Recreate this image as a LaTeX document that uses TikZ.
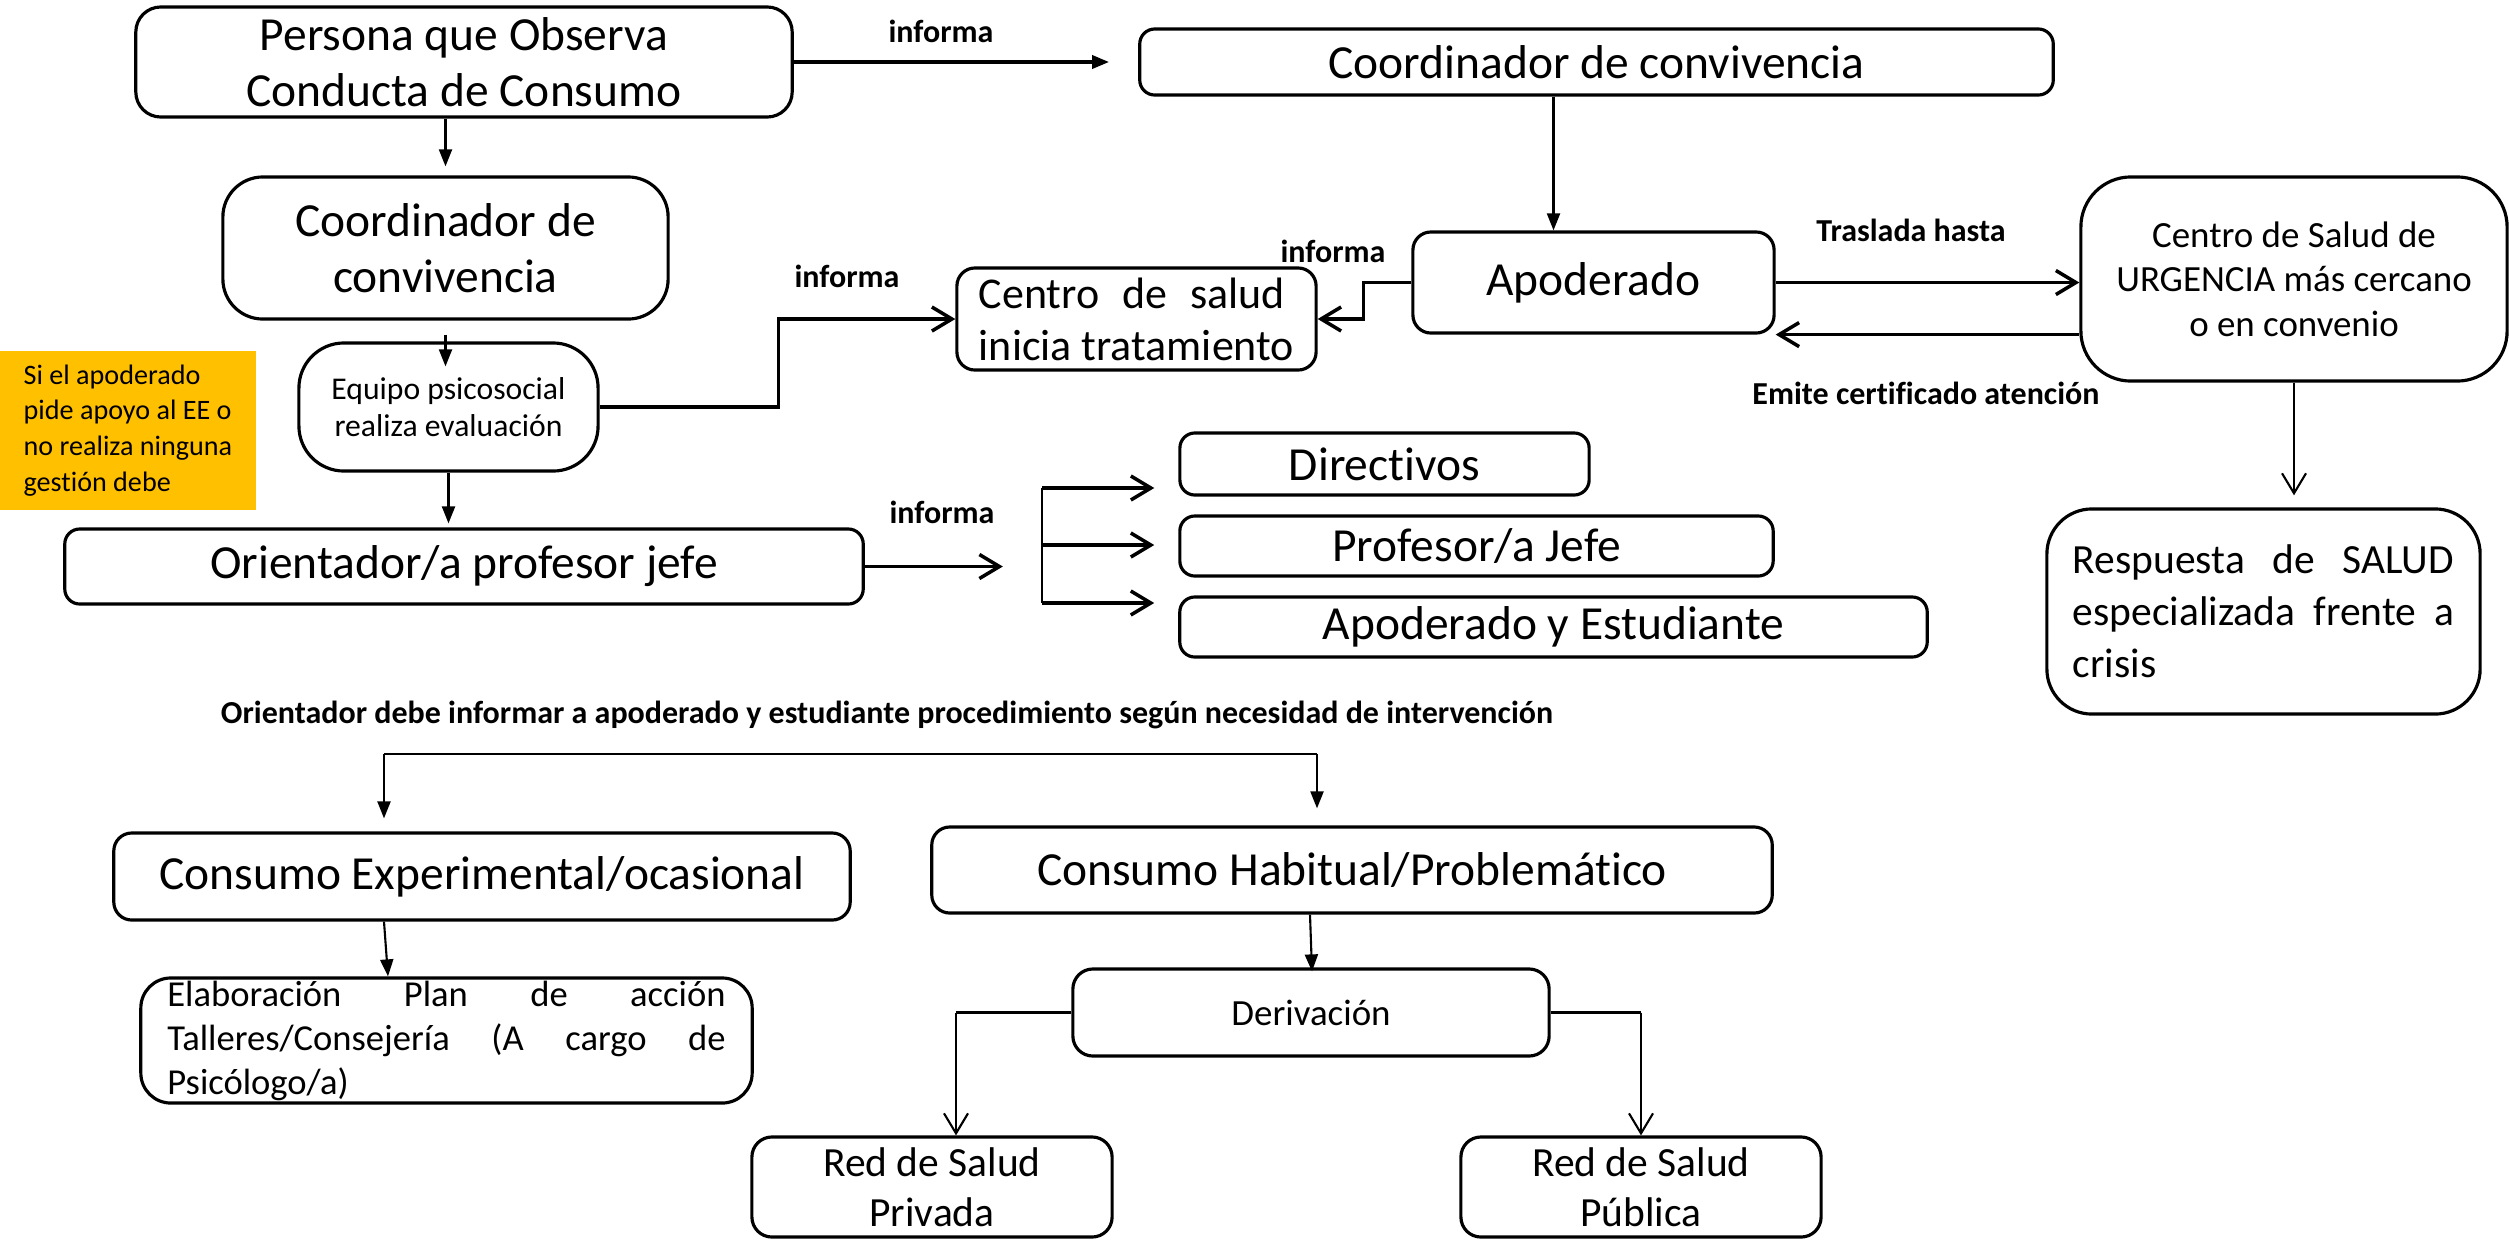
\documentclass[tikz,border=0pt]{standalone}
\usepackage{fontspec}
\setmainfont{Carlito}[Ligatures=NoCommon]
\usetikzlibrary{arrows.meta,calc}
\definecolor{orng}{HTML}{FFC000}
\newcommand\fLg{\fontsize{13.5pt}{16pt}\selectfont}
\newcommand\fMd{\fontsize{10.5pt}{12.7pt}\selectfont}
\newcommand\fRs{\fontsize{11.8pt}{14.8pt}\selectfont}
\newcommand\fRd{\fontsize{11.8pt}{14.2pt}\selectfont}
\newcommand\fCs{\fontsize{12.5pt}{14.8pt}\selectfont}
\newcommand\fEq{\fontsize{9pt}{10.5pt}\selectfont}
\newcommand\fEl{\fontsize{10.4pt}{12.5pt}\selectfont}
\newcommand\fOr{\fontsize{8pt}{10.2pt}\selectfont}
\newcommand\fLb{\bfseries\fontsize{9.1pt}{11pt}\selectfont}
\begin{document}
\begin{tikzpicture}[x=0.01cm,y=-0.01cm,
  box/.style={draw, line width=0.9pt, rounded corners=#1, inner sep=0pt, align=center},
  box/.default=0.15cm,
  thk/.style={line width=1pt},
  thn/.style={line width=0.6pt},
  arrF/.style={-{Triangle[length=0.17cm,width=0.13cm]}},
  barb/.style={-{Straight Barb[length=0.2cm,width=0.24cm]}},
  lab/.style={font=\fLb, inner sep=0pt}]
\useasboundingbox (0,0) rectangle (2509,1239);

% boxes
\node[box=0.25cm, minimum width=6.56cm, minimum height=1.10cm, font=\fLg] (persona) at (464,62) {Persona que Observa\\Conducta de Consumo};
\node[box, minimum width=9.13cm, minimum height=0.66cm, font=\fLg] (coordT) at (1596.5,62) {Coordinador de convivencia};
\node[box=0.18cm, minimum width=3.61cm, minimum height=1.01cm, font=\fLg] (apod) at (1593.5,282.5) {Apoderado};
\node[box=0.5cm, minimum width=4.26cm, minimum height=2.04cm, font=\fMd] (urg) at (2294,279) {Centro de Salud de\\URGENCIA más cercano\\o en convenio};
\node[box=0.45cm, minimum width=4.33cm, minimum height=2.05cm, font=\fRs, align=left] (resp) at (2263.5,611.5) {\makebox[3.81cm][s]{Respuesta de SALUD}\\\makebox[3.81cm][s]{especializada frente a}\\crisis};
\node[box=0.18cm, minimum width=3.59cm, minimum height=1.02cm, font=\fCs, align=left] (centro) at (1136.5,319) {\makebox[3.06cm][s]{Centro de salud}\\inicia tratamiento};
\node[box=0.4cm, minimum width=4.45cm, minimum height=1.42cm, font=\fLg] (coordL) at (445.5,248) {Coordinador de\\convivencia};
\node[box=0.45cm, minimum width=2.99cm, minimum height=1.28cm, font=\fEq] (equipo) at (448.5,407) {Equipo psicosocial\\realiza evaluación};
\node[fill=orng, minimum width=2.56cm, minimum height=1.59cm, inner sep=0pt, align=left, font=\fOr] (nota) at (128,430.5) {Si el apoderado\\pide apoyo al EE o\\no realiza ninguna\\gestión debe};
\node[box, minimum width=7.98cm, minimum height=0.75cm, font=\fLg] (orient) at (464,566.5) {Orientador/a profesor jefe};
\node[box, minimum width=4.09cm, minimum height=0.62cm, font=\fLg] (dir) at (1384.5,464) {Directivos};
\node[box, minimum width=5.93cm, minimum height=0.60cm, font=\fLg] (prof) at (1476.5,546) {Profesor/a Jefe};
\node[box, minimum width=7.47cm, minimum height=0.60cm, font=\fLg] (apEst) at (1553.5,627) {Apoderado y Estudiante};
\node[lab] (nota2) at (887,715) {Orientador debe informar a apoderado y estudiante procedimiento según necesidad de intervención};
\node[box=0.18cm, minimum width=7.36cm, minimum height=0.87cm, font=\fLg] (consE) at (482,876.5) {Consumo Experimental/ocasional};
\node[box=0.18cm, minimum width=8.40cm, minimum height=0.86cm, font=\fLg] (consH) at (1352,870) {Consumo Habitual/Problemático};
\node[box=0.3cm, minimum width=6.11cm, minimum height=1.25cm, font=\fEl, align=left] (elab) at (446.5,1040.5) {\makebox[5.58cm][s]{Elaboración Plan de acción}\\\makebox[5.58cm][s]{Talleres/Consejería (A cargo de}\\Psicólogo/a)};
\node[box=0.2cm, minimum width=4.76cm, minimum height=0.87cm, font=\fMd] (deriv) at (1311,1012.5) {Derivación};
\node[box=0.2cm, minimum width=3.60cm, minimum height=1.00cm, font=\fRd] (redPr) at (932,1187) {Red de Salud\\Privada};
\node[box=0.2cm, minimum width=3.60cm, minimum height=1.00cm, font=\fRd] (redPu) at (1641,1187) {Red de Salud\\Pública};

% labels
\node[lab] (l1) at (941,31) {informa};
\node[lab] (l2) at (1911,230) {Traslada hasta};
\node[lab] (l3) at (1926,393) {Emite certificado atención};
\node[lab] (l4) at (1333,251) {informa};
\node[lab] (l5) at (847,276) {informa};
\node[lab] (l6) at (942,512) {informa};

% connectors
\draw[thk,arrF,shorten >=0.29cm] (persona.east) -- (persona.east -| coordT.west);
\draw[thn,arrF,shorten >=0.09cm] (persona.south -| coordL.north) -- (coordL.north);
\draw[thn,arrF] ($(coordL.south)+(0,14)$) -- ($(coordL.south |- equipo.north)+(0,25)$);
\draw[thn,arrF,shorten >=0.04cm] (equipo.south) -- (equipo.south |- orient.north);
\coordinate (aN) at ($(apod.north)+(-40,0)$);
\draw[thn,arrF] (aN |- coordT.south) -- (aN);
\draw[thk,barb] (apod.east) -- (apod.east -| urg.west);
\draw[thk,barb] (apod.south east -| urg.west) -- (apod.south east);
\draw[thk,barb] (apod.west) -- ++(-48,0) |- (centro.east);
\draw[thn,barb,shorten >=0.12cm] (urg.south) -- (urg.south |- resp.north);
\draw[thk,barb] (equipo.east) -- ++(179,0) |- (centro.west);
\coordinate (oE) at ($(orient.east)+(138,0)$);
\draw[thk,barb] (orient.east) -- (oE);
\coordinate (bT) at (1042,488);
\coordinate (bM) at (1042,545);
\coordinate (bB) at (1042,603);
\draw[thn] (bT) -- (bB);
\draw[thk,barb,shorten >=0.24cm] (bT) -- (bT -| dir.west);
\draw[thk,barb,shorten >=0.24cm] (bM) -- (bM -| prof.west);
\draw[thk,barb,shorten >=0.24cm] (bB) -- (bB -| apEst.west);
\coordinate (sL) at (384,754);
\coordinate (sR) at (1317,754);
\draw[thn] (sL) -- (sR);
\draw[thn,arrF,shorten >=0.13cm] (sL) -- (sL |- consE.north);
\draw[thn,arrF,shorten >=0.17cm] (sR) -- (sR |- consH.north);
\coordinate (eS) at ($(consE.south)+(-98,0)$);
\coordinate (eN) at ($(elab.north)+(-58.5,0)$);
\draw[thn,arrF] (eS) -- (eN);
\coordinate (hS) at ($(consH.south)+(-42,0)$);
\coordinate (hN) at ($(deriv.north)+(1,4)$);
\draw[thn,arrF] (hS) -- (hN);
\coordinate (pN) at ($(redPr.north)+(24,0)$);
\draw[thk] (deriv.west) -- (deriv.west -| pN);
\draw[thn,barb] (deriv.west -| pN) -- (pN);
\draw[thk] (deriv.east) -- (deriv.east -| redPu.north);
\draw[thn,barb] (deriv.east -| redPu.north) -- (redPu.north);
\end{tikzpicture}
\end{document}
